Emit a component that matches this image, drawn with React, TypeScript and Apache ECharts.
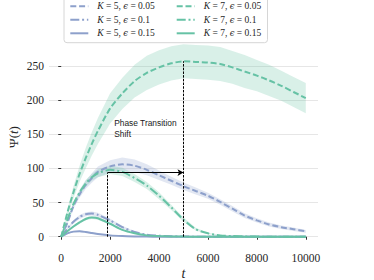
import React, { useEffect, useRef } from "react";
import * as echarts from "echarts";

// time samples
const T = [0, 250, 500, 750, 1000, 1250, 1500, 2000, 2500, 3000, 3500, 4000, 4500, 5000, 5500, 6000, 6500, 7000, 7500, 8000, 8500, 9000, 9500, 10000];

// K = 5
const K5_E005 = [0, 20, 45, 62, 76, 86, 95, 103, 106, 104, 98, 90, 82, 74, 67, 60, 51, 41, 31, 24, 18, 14, 11, 8];
const K5_E005_BAND = [0, 2, 4, 5, 6, 7, 8, 9, 10, 9, 8, 7, 6, 5.5, 5, 4.5, 4, 4, 3.5, 3, 3, 2.5, 2.5, 2];
const K5_E01 = [0, 12, 22, 29, 33, 34, 32, 24, 14, 7, 3, 1.5, 0.7, 0.3, 0.1, 0, 0, 0, 0, 0, 0, 0, 0, 0];
const K5_E01_BAND = [0, 1.5, 2.5, 3, 3, 3, 3, 2.5, 2, 1, 0.5, 0.3, 0.2, 0.1, 0, 0, 0, 0, 0, 0, 0, 0, 0, 0];
const K5_E015 = [0, 5, 7.5, 8, 7, 5.5, 4, 2, 1, 0.5, 0.2, 0, 0, 0, 0, 0, 0, 0, 0, 0, 0, 0, 0, 0];
const K5_E015_BAND = [0, 0.8, 1, 1, 1, 0.8, 0.6, 0.4, 0.2, 0.1, 0, 0, 0, 0, 0, 0, 0, 0, 0, 0, 0, 0, 0, 0];

// K = 7
const K7_E005 = [0, 35, 65, 92, 115, 136, 155, 188, 210, 228, 240, 248, 254, 257, 256, 255, 253, 248, 242, 236, 229, 221, 212, 203];
const K7_E005_BAND = [0, 5, 9, 12, 15, 17, 19, 22, 23, 24, 25, 25, 25, 25, 25, 25, 25, 24, 24, 23, 23, 22, 22, 22];
const K7_E01 = [0, 25, 48, 65, 78, 87, 93, 98, 95, 86, 75, 60, 43, 25, 11, 5, 2, 1, 0.5, 0.2, 0.1, 0, 0, 0];
const K7_E01_BAND = [0, 2, 3, 4, 5, 5, 6, 6, 6, 6, 5, 5, 4, 3, 2, 1, 0.5, 0.3, 0, 0, 0, 0, 0, 0];
const K7_E015 = [0, 8, 15, 21, 26, 28, 27, 19, 10, 5, 2, 1, 0.4, 0.2, 0.1, 0, 0, 0, 0, 0, 0, 0, 0, 0];
const K7_E015_BAND = [0, 1, 1.5, 2, 2, 2, 2, 1.5, 1, 0.5, 0.3, 0.2, 0.1, 0, 0, 0, 0, 0, 0, 0, 0, 0, 0, 0];

const X_TICKS = [0, 2000, 4000, 6000, 8000, 10000];
const Y_TICKS = [0, 50, 100, 150, 200, 250];

// annotation values
const T_LEFT = 1900;
const T_RIGHT = 5000;
const ARROW_Y = 94;
const PEAK_Y = 257;
const NOTE_POS = [2166, 158];
const NOTE_LINES = ["Phase Transition", "Shift"];

const BLUE = "#8da0cb";
const GREEN = "#66c2a5";
const BLUE_BAND = "rgba(141,160,203,0.25)";
const GREEN_BAND = "rgba(102,194,165,0.25)";

const DASHED = [6, 2.8];
const DASHDOT = [9, 2.8, 2, 2.8];

type Spec = { k: number; eps: string; mean: number[]; band: number[]; color: string; fill: string; dash: any };

const SPECS: Spec[] = [
  { k: 5, eps: "0.05", mean: K5_E005, band: K5_E005_BAND, color: BLUE, fill: BLUE_BAND, dash: DASHED },
  { k: 5, eps: "0.1", mean: K5_E01, band: K5_E01_BAND, color: BLUE, fill: BLUE_BAND, dash: DASHDOT },
  { k: 5, eps: "0.15", mean: K5_E015, band: K5_E015_BAND, color: BLUE, fill: BLUE_BAND, dash: "solid" },
  { k: 7, eps: "0.05", mean: K7_E005, band: K7_E005_BAND, color: GREEN, fill: GREEN_BAND, dash: DASHED },
  { k: 7, eps: "0.1", mean: K7_E01, band: K7_E01_BAND, color: GREEN, fill: GREEN_BAND, dash: DASHDOT },
  { k: 7, eps: "0.15", mean: K7_E015, band: K7_E015_BAND, color: GREEN, fill: GREEN_BAND, dash: "solid" },
];

const nameOf = (s: Spec) => `K = ${s.k}, ϵ = ${s.eps}`;

export default function App() {
  const ref = useRef<HTMLDivElement>(null);
  useEffect(() => {
    document.body.style.margin = "0";
    const chart = echarts.init(ref.current!, null, { renderer: "svg" });

    const bandSeries = SPECS.map((s) => ({
      type: "custom",
      silent: true,
      z: 1,
      data: [[T[0], s.mean[0]]],
      encode: { x: 0, y: 1 },
      renderItem: (_p: any, api: any) => {
        const upper = T.map((t, i) => api.coord([t, s.mean[i] + s.band[i]]));
        const lower = T.map((t, i) => api.coord([t, s.mean[i] - s.band[i]])).reverse();
        return { type: "polygon", shape: { points: [...upper, ...lower] }, style: { fill: s.fill } };
      },
    }));

    const lineSeries = SPECS.map((s) => ({
      type: "line",
      name: nameOf(s),
      z: 2,
      symbol: "none",
      smooth: 0.25,
      color: s.color,
      lineStyle: { color: s.color, width: 2, type: s.dash },
      data: T.map((t, i) => [t, s.mean[i]]),
    }));

    const legendFormatter = (name: string) => {
      const s = SPECS.find((x) => nameOf(x) === name)!;
      return `{sp| }{i|K}{n| = ${s.k}, }{e|ϵ}{n| = ${s.eps}}`;
    };
    const legendRich = {
      sp: { width: 4, fontSize: 9.5 },
      i: { fontStyle: "italic", fontFamily: "Liberation Serif", fontSize: 9.5, color: "#262626" },
      e: { fontStyle: "italic", fontFamily: "DejaVu Serif", fontSize: 8.5, color: "#262626" },
      n: { fontFamily: "Liberation Serif", fontSize: 9.5, color: "#262626" },
    };
    const legendBase = {
      orient: "vertical",
      top: 1.3,
      padding: 0,
      itemWidth: 18,
      itemHeight: 10,
      itemGap: 3.5,
      selectedMode: false,
      itemStyle: { opacity: 0 },
      formatter: legendFormatter,
      textStyle: { lineHeight: 10, rich: legendRich },
    };

    const plain = (v: number) => String(v);

    const option: any = {
      animation: false,
      grid: { left: 49, right: 56, top: 36, bottom: 33.7, containLabel: false, outerBoundsMode: "none" },
      xAxis: {
        type: "value",
        min: -500,
        max: 10500,
        axisLine: { show: false },
        axisTick: { show: true, length: 3, customValues: X_TICKS, lineStyle: { color: "#333" } },
        axisLabel: {
          customValues: X_TICKS,
          formatter: plain,
          margin: 6,
          fontFamily: "Liberation Serif",
          fontSize: 11.5,
          color: "#262626",
        },
        splitLine: { show: false },
      },
      yAxis: {
        type: "value",
        min: -14,
        max: 294,
        axisLine: { show: false },
        axisTick: { show: true, length: 3, customValues: Y_TICKS, lineStyle: { color: "#333" } },
        axisLabel: {
          customValues: Y_TICKS,
          formatter: plain,
          margin: 5,
          fontFamily: "Liberation Serif",
          fontSize: 11.5,
          color: "#262626",
        },
        splitLine: { show: true, lineStyle: { color: "#e6e6e6", width: 1 } },
      },
      legend: [
        { ...legendBase, left: 69.3, data: SPECS.filter((s) => s.k === 5).map(nameOf) },
        { ...legendBase, left: 175.7, data: SPECS.filter((s) => s.k === 7).map(nameOf) },
      ],
      series: [
        ...bandSeries,
        ...lineSeries,
        {
          type: "line",
          z: 5,
          silent: true,
          symbol: "none",
          data: [],
          markLine: {
            silent: true,
            symbol: ["none", "none"],
            label: { show: false },
            data: [
              [
                { coord: [T_LEFT, 0], lineStyle: { color: "#000", width: 1, type: [2.5, 1.2] } },
                { coord: [T_LEFT, ARROW_Y] },
              ],
              [
                { coord: [T_LEFT, ARROW_Y], symbol: "none", lineStyle: { color: "#000", width: 1.2, type: "solid" } },
                { coord: [T_RIGHT, ARROW_Y], symbol: "arrow", symbolSize: [5, 6] },
              ],
              [
                { coord: [T_RIGHT, 0], lineStyle: { color: "#000", width: 1, type: [2.5, 1.2] } },
                { coord: [T_RIGHT, PEAK_Y] },
              ],
            ],
          },
        },
      ],
    };
    chart.setOption(option);

    const notePx = chart.convertToPixel({ gridIndex: 0 }, NOTE_POS) as number[];
    chart.setOption({
      graphic: [
        {
          type: "rect",
          z: 3,
          shape: { x: 64, y: -6, width: 203.5, height: 48.7, r: 3 },
          style: { fill: "rgba(255,255,255,0.85)", stroke: "#d6d6d6", lineWidth: 1 },
        },
        {
          type: "text",
          z: 6,
          x: notePx[0],
          y: notePx[1],
          style: {
            text: NOTE_LINES.join("\n"),
            align: "left",
            verticalAlign: "middle",
            fontFamily: "Liberation Sans",
            fontSize: 8.4,
            lineHeight: 11,
            fill: "#1a1a1a",
          },
        },
        {
          type: "text",
          x: 13,
          y: 137,
          rotation: Math.PI / 2,
          style: {
            text: "{n|Ψ(}{i|t}{n|)}",
            align: "center",
            verticalAlign: "middle",
            rich: {
              n: { fontFamily: "Liberation Serif", fontSize: 13, fill: "#262626" },
              i: { fontFamily: "Liberation Serif", fontStyle: "italic", fontSize: 13, fill: "#262626" },
            },
          },
        },
        {
          type: "text",
          x: 183.5,
          y: 273,
          style: {
            text: "t",
            align: "center",
            verticalAlign: "middle",
            fontFamily: "Liberation Serif",
            fontStyle: "italic",
            fontSize: 14,
            fill: "#262626",
          },
        },
      ],
    });
    return () => chart.dispose();
  }, []);
  return <div ref={ref} style={{ width: 374, height: 280 }} />;
}
